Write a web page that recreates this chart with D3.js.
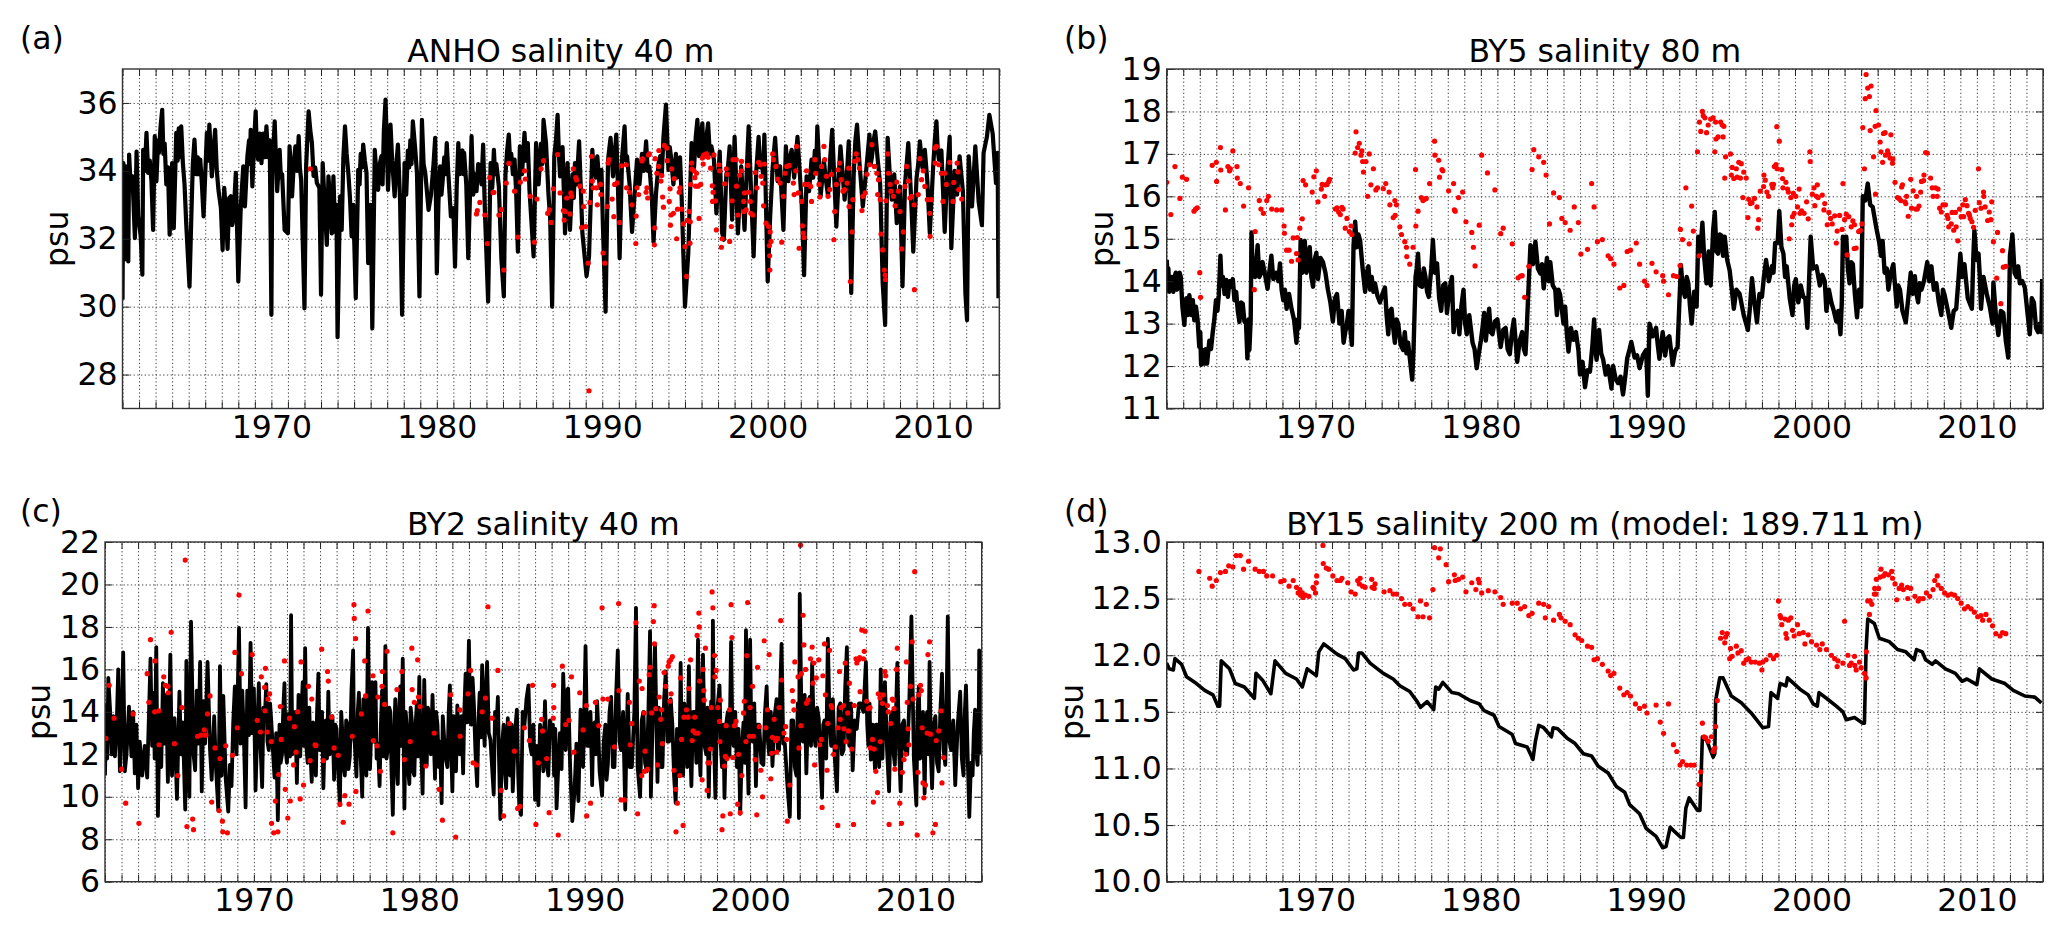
<!DOCTYPE html>
<html>
<head>
<meta charset="utf-8">
<script src="https://cdn.jsdelivr.net/npm/d3@7"></script>
<style>
  body { margin: 0; background: #fff; }
  text { font-family: "DejaVu Sans"; fill: #000; }
</style>
</head>
<body>
<div id="chart"></div>
<script>
const yearTicks = d3.range(1961, 2015)
const decadeLabels = [1970, 1980, 1990, 2000, 2010]
const ticksA = [28, 30, 32, 34, 36]
const ticksB = [11, 12, 13, 14, 15, 16, 17, 18, 19]
const ticksC = [6, 8, 10, 12, 14, 16, 18, 20, 22]
const ticksD = [10, 10.5, 11, 11.5, 12, 12.5, 13]

// [year, salinity], model = black line, obs = red dots
const modelA = [[1961,30.2],[1961.05,34.23],[1961.1,31.38],[1961.2,34.13],[1961.27,32.6],[1961.35,31.33],[1961.4,34.48],[1961.5,33.5],[1961.6,33.84],[1961.75,32.02],[1961.85,34.57],[1961.95,32.66],[1962.1,32.07],[1962.2,30.94],[1962.25,34.62],[1962.35,34],[1962.45,35.12],[1962.55,33.94],[1962.65,34.3],[1962.75,33.7],[1962.85,32.26],[1962.95,35.02],[1963.05,33.69],[1963.15,34.9],[1963.2,34.53],[1963.3,35.3],[1963.4,35.8],[1963.47,34.5],[1963.55,34.8],[1963.65,33.6],[1963.75,34.1],[1963.85,32.12],[1964,34.23],[1964.1,32.31],[1964.25,35.12],[1964.33,34.3],[1964.4,35.25],[1964.47,34.4],[1964.55,35.31],[1964.65,34.23],[1964.75,33.6],[1964.85,32.46],[1965.05,30.59],[1965.15,32.46],[1965.25,34.2],[1965.35,34.92],[1965.45,33.9],[1965.55,34.4],[1965.62,33.9],[1965.7,34.33],[1965.8,33.6],[1965.9,32.66],[1966.1,35.12],[1966.18,34.3],[1966.25,35.36],[1966.33,34.5],[1966.4,33.84],[1966.5,34.6],[1966.6,35.21],[1966.7,34],[1966.8,33.44],[1966.95,32.9],[1967.05,31.67],[1967.15,33.5],[1967.25,32.8],[1967.35,31.7],[1967.45,33.2],[1967.55,33.25],[1967.63,32.4],[1967.7,32.56],[1967.85,33.94],[1968,30.74],[1968.15,32.95],[1968.3,34.13],[1968.4,32.95],[1968.55,34.43],[1968.65,34.9],[1968.7,34.2],[1968.75,35.21],[1968.85,33.54],[1968.95,34.8],[1969.05,35.75],[1969.13,34.5],[1969.2,34.33],[1969.3,35.1],[1969.4,34.23],[1969.5,35.1],[1969.6,34.4],[1969.7,35.31],[1969.8,34.4],[1969.9,34.9],[1970,29.76],[1970.05,33.94],[1970.2,35.46],[1970.28,34.3],[1970.35,33.4],[1970.5,34.62],[1970.57,33.8],[1970.65,33.9],[1970.8,32.26],[1971,32.16],[1971.1,34.72],[1971.25,33.25],[1971.35,34.2],[1971.45,34.72],[1971.55,34],[1971.65,35.02],[1971.72,34.1],[1971.8,33.74],[1972,29.95],[1972.1,34.13],[1972.25,35.75],[1972.35,35.2],[1972.45,34.82],[1972.55,33.85],[1972.65,34.1],[1972.75,33.64],[1972.9,33.5],[1973,30.35],[1973.1,34.23],[1973.25,32.75],[1973.35,31.82],[1973.45,33.84],[1973.55,33.1],[1973.65,32.16],[1973.75,33.84],[1973.85,32.2],[1973.93,33],[1974,29.1],[1974.15,33.25],[1974.25,32.26],[1974.35,34.4],[1974.45,35.31],[1974.55,34.5],[1974.65,33.94],[1974.75,33.2],[1974.85,32.07],[1974.95,33],[1975.1,30.25],[1975.25,34.03],[1975.33,33.6],[1975.4,34.5],[1975.48,34.1],[1975.55,34.77],[1975.65,34.3],[1975.75,33.94],[1975.85,31.28],[1976,33],[1976.1,29.36],[1976.25,34.62],[1976.35,33.9],[1976.45,33.44],[1976.55,34.2],[1976.65,34.43],[1976.72,33.6],[1976.8,35.2],[1976.9,36.1],[1977.05,33.44],[1977.2,35.36],[1977.3,34.3],[1977.45,33.25],[1977.55,34.2],[1977.65,34.77],[1977.78,33.1],[1977.9,29.76],[1978.05,34.23],[1978.15,33.3],[1978.25,34.6],[1978.33,34.1],[1978.4,34.9],[1978.47,34.2],[1978.55,35.46],[1978.7,34.6],[1978.8,33.94],[1978.95,30.3],[1979.1,35.5],[1979.2,34.2],[1979.3,33.94],[1979.5,32.85],[1979.65,33.3],[1979.8,34.2],[1979.9,34.97],[1980,30.98],[1980.1,33.1],[1980.2,34.13],[1980.28,33.3],[1980.35,33.7],[1980.45,34.4],[1980.52,33.9],[1980.6,34.82],[1980.7,33.9],[1980.85,32.66],[1981,32.9],[1981.1,31.18],[1981.2,33.5],[1981.3,34.82],[1981.38,33.9],[1981.45,34.1],[1981.55,34.6],[1981.6,33.9],[1981.65,34.53],[1981.78,33.6],[1981.9,31.43],[1982,33.2],[1982.1,35.02],[1982.2,33.3],[1982.3,33.9],[1982.4,33.4],[1982.5,34.2],[1982.6,34.13],[1982.7,33.6],[1982.8,34.77],[1982.9,32.9],[1983.1,30.15],[1983.25,34.23],[1983.35,33.5],[1983.45,34.62],[1983.52,33.9],[1983.6,34.2],[1983.75,33.54],[1983.9,31.43],[1984.05,30.3],[1984.15,33.9],[1984.25,34.6],[1984.35,35.07],[1984.43,34.3],[1984.5,34.5],[1984.6,33.9],[1984.7,34.33],[1984.8,33.3],[1984.9,31.62],[1985.02,34.72],[1985.15,33.9],[1985.3,35.12],[1985.4,34.3],[1985.5,34.82],[1985.6,33.44],[1985.85,31.48],[1986,34.82],[1986.15,33.6],[1986.3,34.8],[1986.38,34.2],[1986.45,35.5],[1986.6,34.82],[1986.75,33.3],[1986.85,32.6],[1986.97,30],[1987.1,34.43],[1987.2,34.9],[1987.3,35.65],[1987.38,34.5],[1987.45,33.84],[1987.6,34.7],[1987.75,32.16],[1987.9,34.23],[1988.05,32.26],[1988.2,33.9],[1988.28,33.2],[1988.35,34.23],[1988.45,33.6],[1988.52,34.2],[1988.6,34.87],[1988.8,32.16],[1989.05,30.9],[1989.2,31.48],[1989.4,34.62],[1989.47,34],[1989.55,34.1],[1989.62,33.8],[1989.7,34.43],[1989.85,33.5],[1989.95,34.03],[1990.05,32.2],[1990.2,29.85],[1990.35,34.33],[1990.5,34.97],[1990.65,33.84],[1990.75,34.5],[1990.85,35.07],[1990.95,33.5],[1991.05,31.43],[1991.2,34.4],[1991.35,35.31],[1991.42,34.3],[1991.5,34.43],[1991.65,33.6],[1991.8,32.2],[1992.1,34.33],[1992.25,33.6],[1992.4,34.5],[1992.52,34],[1992.65,34.87],[1992.75,34],[1992.85,34.13],[1993,33.2],[1993.1,31.9],[1993.25,33.34],[1993.4,34.2],[1993.5,34.43],[1993.6,33.9],[1993.7,35],[1993.85,35.95],[1994,34.03],[1994.08,34.7],[1994.15,34.43],[1994.3,33.6],[1994.45,34.5],[1994.52,33.8],[1994.6,33.94],[1994.7,34.4],[1994.8,33.2],[1995,30],[1995.2,31.58],[1995.4,34.82],[1995.55,34.1],[1995.65,35],[1995.75,35.5],[1995.85,34.43],[1995.95,34.9],[1996.05,35.4],[1996.13,34.4],[1996.2,34.43],[1996.3,35],[1996.4,35.4],[1996.5,34.5],[1996.6,34.72],[1996.75,34.33],[1996.9,32.75],[1997.1,34.57],[1997.25,32.16],[1997.35,31.97],[1997.5,33.9],[1997.6,34.1],[1997.7,34.72],[1997.85,32.56],[1998,35],[1998.2,32.16],[1998.4,34.13],[1998.6,32.26],[1998.75,34.2],[1998.85,35.31],[1999,33.34],[1999.15,31.48],[1999.3,33.9],[1999.45,35],[1999.55,34.1],[1999.65,34.23],[1999.72,33.9],[1999.8,35.07],[2000,30.74],[2000.15,32.66],[2000.3,34.1],[2000.45,34.97],[2000.6,33.7],[2000.75,34.13],[2000.95,32.26],[2001.1,34.72],[2001.25,33.7],[2001.35,34.4],[2001.45,34.62],[2001.6,33.8],[2001.7,34.4],[2001.8,35],[2002.05,33.1],[2002.2,30.93],[2002.35,33.84],[2002.5,33.4],[2002.65,34.33],[2002.75,33.8],[2002.85,34.6],[2002.93,34],[2003,35.31],[2003.2,33.25],[2003.4,34.3],[2003.5,33.8],[2003.65,33.25],[2003.78,34.4],[2003.9,35.21],[2004.15,32.36],[2004.3,33.9],[2004.4,34.72],[2004.65,33.15],[2004.8,34],[2004.9,34.87],[2005.05,30.4],[2005.2,33.9],[2005.3,34.9],[2005.4,35.36],[2005.55,34.23],[2005.75,32.95],[2005.95,34],[2006.15,35.07],[2006.23,34.2],[2006.3,34.4],[2006.4,34.9],[2006.5,35.16],[2006.65,34.33],[2006.8,33.6],[2006.95,30.7],[2007.1,29.46],[2007.25,34.97],[2007.38,33.9],[2007.5,33.15],[2007.65,33.9],[2007.8,32.46],[2008,33.54],[2008.15,30.6],[2008.3,33.6],[2008.4,34.2],[2008.5,34.82],[2008.65,33.4],[2008.8,31.62],[2009,33.8],[2009.1,34.2],[2009.2,34.87],[2009.35,34.1],[2009.5,34.62],[2009.65,33.7],[2009.8,32.16],[2010,34.1],[2010.1,34.9],[2010.2,35.46],[2010.28,34.6],[2010.35,34.33],[2010.5,34.6],[2010.7,32.2],[2010.85,33.9],[2011,35],[2011.1,31.72],[2011.3,34],[2011.45,33.3],[2011.6,34.43],[2011.8,33.4],[2011.95,30.4],[2012.05,29.6],[2012.15,34.43],[2012.35,32.95],[2012.55,34.72],[2012.75,33.1],[2012.95,32.4],[2013.05,34.53],[2013.25,35],[2013.4,35.65],[2013.6,35.1],[2013.8,33.64],[2013.9,34.53],[2013.95,30.25]]
const obsA = [[1972.35,34.06],[1982.4,32.73],[1982.45,32.83],[1982.6,33.07],[1982.9,32.7],[1983.05,31.86],[1983.2,33.8],[1983.4,33.36],[1983.45,33.37],[1983.75,32.7],[1983.9,32.86],[1984.05,31.08],[1984.2,33.64],[1984.35,34.22],[1984.7,33.4],[1984.9,32.05],[1985.05,33.67],[1985.3,34],[1985.35,33.76],[1985.65,33.25],[1985.9,31.9],[1986.05,33.17],[1986.3,34.06],[1986.45,34.3],[1986.7,32.75],[1986.8,32.85],[1986.9,32.48],[1987.05,33.47],[1987.3,34.48],[1987.45,33.35],[1987.65,32.83],[1987.7,32.55],[1987.75,32.8],[1987.85,33.2],[1988.05,32.73],[1988.1,33.35],[1988.15,33.25],[1988.25,34.06],[1988.4,33.8],[1988.45,33.73],[1988.65,33.55],[1988.85,33.4],[1988.87,32.95],[1988.75,32.33],[1989,32.36],[1989.15,31.28],[1989.2,27.52],[1989.25,33.07],[1989.35,34.43],[1989.4,33.7],[1989.45,33.5],[1989.65,33.5],[1989.7,33],[1989.9,33.6],[1989.92,33.3],[1990.05,31.58],[1990.15,31.28],[1990.3,32.95],[1990.35,34.23],[1990.4,34.33],[1990.6,33.17],[1990.7,32.65],[1990.75,33.6],[1990.9,33.65],[1991.05,32.48],[1991.15,34.15],[1991.45,34.18],[1991.47,33.5],[1991.65,33.37],[1991.8,33],[1992.05,32.67],[1992.1,33.5],[1992.2,33.3],[1992.03,31.86],[1992.4,34.29],[1992.43,34.35],[1992.65,33.37],[1992.7,33.5],[1992.75,33.2],[1992.8,34.47],[1992.85,34.5],[1993.15,31.82],[1993.17,32.32],[1993.2,34.36],[1993.3,33.93],[1993.4,34.13],[1993.42,34.6],[1993.55,33.7],[1993.6,33.86],[1993.65,33.23],[1993.7,32.93],[1993.75,34.75],[1993.9,34.67],[1993.92,34.3],[1994.1,33.47],[1994.12,32.4],[1994.05,33.1],[1994.15,32.7],[1994.2,34.06],[1994.3,32.75],[1994.35,33.77],[1994.5,32],[1994.55,32.87],[1994.65,33.37],[1994.7,33.5],[1994.8,32.87],[1994.9,32.44],[1995,31.77],[1995.1,30.89],[1995.15,32.54],[1995.25,32.8],[1995.3,31.87],[1995.32,32.5],[1995.35,33.6],[1995.4,34.23],[1995.42,34.05],[1995.55,34],[1995.6,33.8],[1995.65,33.55],[1995.7,33.93],[1995.8,33.55],[1995.85,32.6],[1995.95,33.6],[1996.05,34.38],[1996.1,34.2],[1996.15,34.47],[1996.3,34.5],[1996.4,34.4],[1996.55,34.08],[1996.65,33.56],[1996.7,33.37],[1996.67,33.1],[1996.75,34.47],[1996.85,33.12],[1996.9,32.26],[1997.05,34.18],[1997.1,34],[1997.2,31.75],[1997.25,32],[1997.4,33.62],[1997.5,34.06],[1997.55,33.9],[1997.7,31.92],[1997.8,32.36],[1997.85,33.12],[1997.9,34.33],[1998.1,34.33],[1998.12,33.55],[1998.2,32.7],[1998.3,33.87],[1998.4,34],[1998.42,34.28],[1998.55,33.1],[1998.57,32.8],[1998.6,33.35],[1998.7,32.85],[1998.8,34.16],[1998.85,33.37],[1998.95,33.1],[1998.98,32.75],[1999.1,32.7],[1999.25,33.95],[1999.35,33.5],[1999.45,34.25],[1999.55,34.18],[1999.6,33.84],[1999.7,33.64],[1999.8,34.2],[1999.75,32.97],[1999.9,32.46],[2000.05,32.36],[2000.15,32.2],[2000.1,31.8],[2000.12,31.5],[2000.13,31.08],[2000.2,31.92],[2000.3,34.5],[2000.35,34.33],[2000.5,34.13],[2000.6,33.76],[2000.75,33.64],[2000.85,31.9],[2000.95,33.25],[2001.05,33.93],[2001.15,34.13],[2001.3,34.16],[2001.55,33.64],[2001.7,34],[2001.6,33.3],[2001.75,34.72],[2001.85,33.35],[2001.9,31.72],[2002.05,33.1],[2002.1,32.38],[2002.15,32.17],[2002.2,32.04],[2002.25,33.6],[2002.35,34],[2002.45,33.6],[2002.6,33.54],[2002.65,33.1],[2002.85,34.33],[2002.9,33.93],[2003.1,33.6],[2003.15,33.23],[2003.25,34.13],[2003.4,34.72],[2003.45,34.33],[2003.55,33.84],[2003.65,33.25],[2003.75,33.45],[2003.85,33.9],[2004,31.97],[2004.05,32.8],[2004.15,33.6],[2004.25,34.03],[2004.35,34.23],[2004.45,33.74],[2004.55,33.4],[2004.65,33.45],[2004.8,33.64],[2004.9,34.08],[2004.92,32.95],[2005,30.74],[2005.1,32.2],[2005.15,33.15],[2005.25,34.28],[2005.35,34.5],[2005.45,34.33],[2005.55,34.08],[2005.7,32.83],[2005.75,33.25],[2005.9,33.35],[2006,33.9],[2006.15,34.18],[2006.3,34.77],[2006.45,34.13],[2006.6,33.93],[2006.7,33.74],[2006.65,33.3],[2006.8,33.15],[2006.85,32.14],[2006.95,31.67],[2007.05,31.08],[2007.1,30.93],[2007.12,30.8],[2007.15,33.12],[2007.25,34.5],[2007.3,33.93],[2007.4,33.6],[2007.45,33.4],[2007.6,33.25],[2007.7,32.97],[2007.8,33.67],[2007.9,33.4],[2008,32.8],[2008.1,31.7],[2008.2,32.2],[2008.3,33.54],[2008.4,34.13],[2008.5,33.7],[2008.6,33.2],[2008.7,33.25],[2008.85,33],[2008.87,30.5],[2009.1,33.3],[2009.2,34.36],[2009.3,33.74],[2009.4,34],[2009.5,33.54],[2009.65,33.15],[2009.8,32.75],[2009.82,32.07],[2009.9,33.15],[2010.1,34.67],[2010.2,34.72],[2010.12,34.23],[2010.35,34.18],[2010.5,33.93],[2010.7,33.93],[2010.6,33.1],[2010.8,33.6],[2011,34.25],[2011.2,33.1],[2011.25,33.66],[2011.45,34.23],[2011.5,33.97],[2011.55,33.45],[2011.73,33.17]]

const modelB = [[1961,14.5],[1961.05,14.1],[1961.1,14.3],[1961.15,13.75],[1961.22,14.05],[1961.3,14.1],[1961.4,13.75],[1961.48,14.1],[1961.55,14.2],[1961.62,13.8],[1961.7,13.85],[1961.78,14.2],[1961.85,14.1],[1961.95,13.4],[1962.07,12.97],[1962.13,13.5],[1962.2,13.6],[1962.28,13.2],[1962.37,13.67],[1962.5,13.2],[1962.58,13.55],[1962.67,13.08],[1962.77,13.4],[1962.87,13.08],[1962.97,12.45],[1963.03,12.8],[1963.08,12.03],[1963.18,12.38],[1963.28,12.06],[1963.36,12.4],[1963.44,12.06],[1963.58,12.6],[1963.68,12.4],[1963.78,12.78],[1963.88,13.1],[1963.98,13.55],[1964.07,13.3],[1964.15,13.67],[1964.25,14.6],[1964.32,13.9],[1964.4,14.1],[1964.5,13.7],[1964.6,14.03],[1964.7,13.63],[1964.8,14],[1964.9,13.87],[1965,14.05],[1965.1,13.55],[1965.2,13.75],[1965.3,13.3],[1965.4,13.04],[1965.5,13.5],[1965.6,13.47],[1965.7,13.05],[1965.8,13],[1965.88,12.18],[1965.95,13.1],[1966,12.38],[1966.08,13.1],[1966.13,15.15],[1966.2,14.2],[1966.25,14.43],[1966.35,14.1],[1966.5,14.85],[1966.6,14.1],[1966.7,14.18],[1966.8,14.45],[1966.95,14.15],[1967.1,13.82],[1967.2,14.2],[1967.33,14.6],[1967.45,14.05],[1967.63,14.2],[1967.75,14],[1967.85,14.42],[1967.95,13.8],[1968.05,13.55],[1968.15,13.8],[1968.25,13.35],[1968.4,13.7],[1968.55,13.35],[1968.7,13.1],[1968.85,12.55],[1968.93,13.1],[1969,12.9],[1969.1,14.97],[1969.2,14.2],[1969.35,14.95],[1969.45,14.2],[1969.55,14.35],[1969.65,14.8],[1969.75,14.1],[1969.85,13.87],[1969.95,14.5],[1970.05,14.67],[1970.15,14.05],[1970.3,14.55],[1970.45,14.45],[1970.6,14.2],[1970.75,13.8],[1970.9,13.5],[1971.05,13.05],[1971.18,13.6],[1971.3,13.7],[1971.45,13],[1971.58,13.3],[1971.7,12.55],[1971.8,12.8],[1971.9,13],[1972,13.3],[1972.1,12.9],[1972.2,12.5],[1972.3,14.85],[1972.4,15.4],[1972.5,14.8],[1972.6,15.1],[1972.7,14.95],[1972.85,14.3],[1973,13.75],[1973.1,14.2],[1973.2,14.35],[1973.3,13.8],[1973.4,14.1],[1973.5,13.75],[1973.6,13.95],[1973.75,13.65],[1973.9,13.5],[1974.05,13.7],[1974.2,13.85],[1974.3,13.2],[1974.4,12.75],[1974.5,13.3],[1974.6,13.35],[1974.7,12.9],[1974.8,12.55],[1974.9,13.1],[1975,13],[1975.15,12.5],[1975.3,12.38],[1975.4,12.8],[1975.5,12.3],[1975.6,12.55],[1975.7,12.2],[1975.85,11.68],[1975.93,12.4],[1976.05,14.1],[1976.12,14.3],[1976.2,14.65],[1976.3,13.9],[1976.45,13.87],[1976.55,14.3],[1976.65,14.1],[1976.75,13.75],[1976.85,13.63],[1977,14.3],[1977.1,14.97],[1977.22,14.2],[1977.35,14.42],[1977.48,13.6],[1977.6,13.3],[1977.72,13.9],[1977.85,13.95],[1977.95,13.25],[1978.1,13.8],[1978.25,14.1],[1978.35,12.8],[1978.48,13.2],[1978.6,13.3],[1978.7,12.75],[1978.82,13.4],[1978.95,13.8],[1979.05,13],[1979.15,12.75],[1979.3,13.2],[1979.5,12.55],[1979.62,12.4],[1979.75,11.95],[1979.88,12.3],[1980,12.6],[1980.1,12.9],[1980.2,13.25],[1980.3,12.6],[1980.4,13],[1980.5,13.35],[1980.6,12.8],[1980.7,12.75],[1980.85,13.05],[1981,13.1],[1981.1,12.75],[1981.2,12.45],[1981.35,12.85],[1981.5,12.9],[1981.62,12.4],[1981.75,12.28],[1981.88,12.8],[1982,13.1],[1982.1,12.6],[1982.2,12.1],[1982.35,12.6],[1982.5,12.8],[1982.6,12.4],[1982.7,12.28],[1982.78,12.9],[1982.85,13.55],[1983,14.85],[1983.15,14.4],[1983.3,14.93],[1983.45,14.3],[1983.6,14.18],[1983.7,14.4],[1983.8,13.83],[1983.9,14.2],[1984,14.55],[1984.1,14],[1984.2,14.45],[1984.35,13.9],[1984.5,13.8],[1984.6,13.2],[1984.7,13.8],[1984.8,13.67],[1985,13],[1985.1,13.4],[1985.2,12.77],[1985.3,12.34],[1985.45,12.9],[1985.6,12.62],[1985.75,12.8],[1985.9,12.38],[1986,11.8],[1986.15,12.1],[1986.3,11.5],[1986.45,11.9],[1986.6,11.87],[1986.75,12.5],[1986.85,13.1],[1986.93,12.4],[1987,12.15],[1987.15,12.85],[1987.28,12.3],[1987.4,12.15],[1987.55,11.8],[1987.7,12],[1987.9,11.47],[1988,12],[1988.15,11.7],[1988.3,11.6],[1988.45,11.75],[1988.6,11.33],[1988.75,11.8],[1988.85,12.18],[1989,12.4],[1989.1,12.57],[1989.3,12.2],[1989.45,12.25],[1989.6,11.95],[1989.8,12.25],[1990,12.38],[1990.1,11.3],[1990.2,13],[1990.4,12.7],[1990.6,12.9],[1990.7,12.5],[1990.8,12.17],[1991,12.8],[1991.15,12.25],[1991.28,12.65],[1991.4,12.7],[1991.6,12.03],[1991.75,12.35],[1991.9,12.45],[1992.1,14.38],[1992.22,13.8],[1992.35,13.63],[1992.45,14.1],[1992.55,13.95],[1992.65,13.4],[1992.75,13],[1992.9,13.75],[1993.05,13.4],[1993.15,15.05],[1993.28,14.7],[1993.4,15.38],[1993.5,14.6],[1993.65,13.95],[1993.78,14.7],[1993.9,13.9],[1994.05,15.2],[1994.15,15.63],[1994.25,14.7],[1994.35,14.65],[1994.45,15.1],[1994.55,15.08],[1994.65,14.6],[1994.75,15.05],[1994.9,14.5],[1995.05,14.25],[1995.18,13.8],[1995.3,13.35],[1995.45,13.8],[1995.65,13.7],[1995.9,13.2],[1996.15,12.85],[1996.28,13.4],[1996.4,14.07],[1996.55,13.5],[1996.7,13.03],[1996.85,13.7],[1997,13.63],[1997.12,14.1],[1997.25,14.5],[1997.42,14],[1997.6,14.35],[1997.7,14.2],[1997.8,14.9],[1997.95,14.9],[1998.05,15.65],[1998.18,14.8],[1998.3,14.65],[1998.4,14.1],[1998.5,14.35],[1998.68,13.6],[1998.85,13.2],[1998.95,13.9],[1999.05,14.05],[1999.2,13.5],[1999.35,13.9],[1999.5,13.63],[1999.62,13.6],[1999.75,12.9],[1999.85,14],[1999.95,15.05],[2000.1,14.3],[2000.3,14.35],[2000.5,13.9],[2000.65,14.15],[2000.8,14],[2000.9,13.3],[2001.05,13.8],[2001.2,13.5],[2001.35,13.3],[2001.5,13.05],[2001.62,13.3],[2001.75,12.75],[2001.83,13.5],[2001.9,15.05],[2002,14.6],[2002.1,15.05],[2002.2,14.3],[2002.3,13.95],[2002.4,14.45],[2002.5,14.4],[2002.62,13.7],[2002.75,13.15],[2002.88,13.8],[2003,13.4],[2003.1,16],[2003.25,15.9],[2003.4,16.3],[2003.55,15.8],[2003.7,15.75],[2003.9,15.3],[2004.1,14.9],[2004.2,14.6],[2004.3,14.95],[2004.42,14.2],[2004.55,14.3],[2004.65,13.8],[2004.8,14.2],[2004.95,14.4],[2005.05,13.9],[2005.15,13.4],[2005.25,13.9],[2005.35,13.8],[2005.5,13.3],[2005.7,13.03],[2005.85,13.6],[2006,14.2],[2006.12,13.7],[2006.25,14.12],[2006.35,13.7],[2006.45,13.5],[2006.55,13.95],[2006.65,13.8],[2006.8,14],[2007,14.45],[2007.12,14],[2007.25,14.35],[2007.4,13.8],[2007.55,13.95],[2007.7,13.5],[2007.85,13.2],[2007.95,13.8],[2008.05,13.67],[2008.25,13.3],[2008.45,12.9],[2008.6,13.3],[2008.75,13.35],[2008.88,14],[2009,14.65],[2009.12,14.1],[2009.25,14.4],[2009.45,13.6],[2009.7,13.35],[2009.78,14.5],[2009.85,15.2],[2009.98,14.5],[2010.1,14.65],[2010.18,14.1],[2010.25,13.35],[2010.4,14.1],[2010.6,13.7],[2010.78,13.4],[2010.95,13],[2011,13.97],[2011.15,13.2],[2011.3,12.73],[2011.45,13.3],[2011.6,13.25],[2011.75,12.6],[2011.9,12.2],[2012,14.6],[2012.15,15.1],[2012.28,14.2],[2012.4,14.1],[2012.5,14.35],[2012.6,13.95],[2012.75,14],[2012.9,13.85],[2013.05,13.3],[2013.2,12.75],[2013.32,13.6],[2013.45,13.5],[2013.58,12.9],[2013.7,12.8],[2013.8,13],[2013.9,12.8],[2013.95,14.05]]
const obsB = [[1961,16.33],[1961.25,15.57],[1961.5,16.7],[1961.8,15.95],[1961.95,16.45],[1962.2,16.4],[1962.65,15.65],[1962.75,15.7],[1962.85,15.73],[1963,14.2],[1963.05,13.62],[1963.75,16.73],[1964,16.8],[1964.02,16.35],[1964.25,17.15],[1964.27,16.62],[1964.55,15.68],[1964.7,16.7],[1964.8,16.6],[1964.85,16.65],[1965,17.07],[1965.25,16.7],[1965.27,16.43],[1965.45,16.3],[1965.65,15.77],[1965.95,16.2],[1966.3,13.8],[1966.35,15.17],[1966.6,15.9],[1966.7,15.7],[1966.85,15.6],[1967.05,15.9],[1967.15,16],[1967.35,15.7],[1967.65,15.68],[1967.95,15.68],[1968.1,15.3],[1968.12,15.13],[1968.25,14.73],[1968.4,14.73],[1968.55,14.47],[1968.65,15.02],[1968.9,15.03],[1968.85,14.65],[1968.95,14.5],[1969.05,15.25],[1969.2,15.47],[1969.25,16.37],[1969.4,16.27],[1969.8,16.1],[1969.9,16.46],[1970.05,16.6],[1970.15,15.87],[1970.35,16.17],[1970.4,16.28],[1970.55,16],[1970.6,16.27],[1970.7,16.28],[1970.8,16.35],[1970.85,16.4],[1971.2,15.7],[1971.3,15.73],[1971.4,15.63],[1971.5,15.57],[1971.6,15.74],[1971.67,15.7],[1971.8,15.25],[1971.9,15.48],[1972.05,15.17],[1972.15,15.3],[1972.2,15.1],[1972.4,17.02],[1972.45,17.52],[1972.55,17.15],[1972.65,17.25],[1972.75,16.97],[1972.8,17.07],[1972.85,16.82],[1972.9,16.57],[1973.05,16.82],[1973.15,16],[1973.25,17],[1973.35,16.27],[1973.5,16.65],[1973.65,16.15],[1973.75,16.2],[1974.1,16.18],[1974.25,16.3],[1974.45,16.1],[1974.5,15.8],[1974.7,15.5],[1974.8,15.9],[1974.82,15.55],[1974.9,15.8],[1975.1,15.28],[1975.2,15.1],[1975.4,14.93],[1975.5,14.8],[1975.52,14.58],[1975.7,14.4],[1975.9,14.8],[1976.05,16.63],[1976.07,15.3],[1976.2,15.65],[1976.4,15.97],[1976.5,15.9],[1976.6,15.93],[1976.7,15.95],[1976.9,16.3],[1977.2,17.3],[1977.22,16.97],[1977.45,16.85],[1977.5,16.45],[1977.65,16.63],[1977.7,16.6],[1978.05,16.13],[1978.35,16.3],[1978.4,15.68],[1978.45,15.65],[1978.65,15.97],[1978.9,16.1],[1979.1,15.4],[1979.45,15.15],[1979.55,14.8],[1979.65,14.36],[1979.9,15.32],[1980.05,16.97],[1980.4,16.55],[1980.85,16.15],[1981.2,15.12],[1981.35,15.25],[1981.9,14.88],[1982.25,14.08],[1982.4,14.12],[1982.5,14.13],[1982.65,13.62],[1982.9,14.35],[1983.1,16.63],[1983.2,17.1],[1983.5,16.93],[1983.8,16.8],[1983.95,16.5],[1984.15,15.35],[1984.4,16.08],[1984.75,15.97],[1984.9,15.48],[1985.1,15.38],[1985.4,15.2],[1985.65,15.75],[1985.9,15.38],[1986.05,14.64],[1986.45,14.75],[1986.7,16.3],[1986.85,15.75],[1987.05,14.93],[1987.35,14.98],[1987.7,14.6],[1987.85,14.53],[1988.05,14.4],[1988.4,13.84],[1988.65,13.9],[1988.85,14.7],[1989.05,14.73],[1989.4,14.9],[1989.6,14.4],[1989.9,14],[1990.05,13.9],[1990.35,14.42],[1990.6,14.22],[1991,14.13],[1991.05,14],[1991.35,13.68],[1991.65,14.13],[1991.85,14.11],[1992.05,14.37],[1992.07,15.22],[1992.2,14.98],[1992.4,16.2],[1992.6,14.88],[1992.75,15.77],[1992.85,15.18],[1993.1,17.05],[1993.2,14.6],[1993.22,17.75],[1993.3,17.53],[1993.4,18],[1993.45,17.9],[1993.55,17.85],[1993.65,17.5],[1993.75,17.68],[1993.9,17.82],[1994.05,17.85],[1994.15,17.05],[1994.2,17.75],[1994.22,17.35],[1994.35,17.4],[1994.5,17.75],[1994.6,17.68],[1994.65,17.4],[1994.7,17.65],[1994.8,16.93],[1994.75,16.43],[1995.1,17],[1995.15,16.5],[1995.2,16.68],[1995.3,16.42],[1995.45,16.65],[1995.5,16.45],[1995.6,16.8],[1995.7,16.43],[1995.75,16.77],[1995.9,16.57],[1996.05,16.43],[1995.85,15.97],[1996.15,15.5],[1996.2,15.93],[1996.3,15.83],[1996.4,15.85],[1996.55,15.95],[1996.7,15.75],[1996.8,15.45],[1996.75,15.25],[1996.9,16.12],[1997.1,16.23],[1997.12,16.5],[1997.2,16.38],[1997.3,16.1],[1997.4,16],[1997.6,16.28],[1997.65,16.2],[1997.7,16.28],[1997.75,16.7],[1997.9,17.64],[1997.85,16.75],[1997.92,16.65],[1998.05,17.3],[1998.2,16.63],[1998.25,16.42],[1998.27,16.2],[1998.45,16.33],[1998.55,16.17],[1998.6,16.1],[1998.65,15],[1998.75,15.97],[1998.8,15.33],[1998.9,16.07],[1998.85,15.52],[1998.95,15.6],[1999.05,16],[1999.15,15.75],[1999.25,16.17],[1999.3,15.6],[1999.4,15.66],[1999.55,15.6],[1999.7,15.87],[1999.8,15.47],[1999.9,17.05],[1999.92,16.82],[2000.05,16.05],[2000.15,16.2],[2000.2,15.78],[2000.35,16.27],[2000.3,16],[2000.4,15.97],[2000.65,16.03],[2000.8,15.83],[2000.75,15.68],[2001.05,15.62],[2000.95,15.33],[2001.15,15.48],[2001.25,15.35],[2001.4,15.54],[2001.55,15.18],[2001.5,14.9],[2001.7,15.55],[2001.85,15.22],[2001.9,16.3],[2002,15.45],[2002.1,15.58],[2002.25,15.52],[2002.15,14.62],[2002.4,15.28],[2002.5,15.42],[2002.6,15.33],[2002.58,14.77],[2002.7,14.78],[2002.85,15.17],[2002.95,15.2],[2003.05,15.35],[2003.1,17.62],[2003.2,16.65],[2003.25,18.3],[2003.3,18.87],[2003.4,18.55],[2003.5,18.35],[2003.6,18.6],[2003.55,17.55],[2003.75,16.93],[2003.85,17.65],[2003.87,16.05],[2003.9,18.02],[2004.05,17.68],[2004.15,17.28],[2004.2,17.05],[2004.3,16.8],[2004.35,17.48],[2004.45,17.5],[2004.47,16.97],[2004.6,17.07],[2004.65,17],[2004.75,16.9],[2004.8,17.45],[2004.9,16.78],[2004.92,16.88],[2005.05,16.33],[2005.2,15.97],[2005.3,15.95],[2005.4,15.9],[2005.45,16.22],[2005.5,16.27],[2005.65,15.87],[2005.75,16],[2005.85,15.53],[2005.7,15.83],[2006,16.4],[2006.05,15.72],[2006.15,16.13],[2006.3,15.7],[2006.35,16],[2006.4,15.7],[2006.5,15.77],[2006.6,16.1],[2006.65,16.35],[2006.8,16.5],[2006.78,16.37],[2006.9,17.03],[2007,17.02],[2007.2,16.43],[2007.3,16.2],[2007.35,16],[2007.5,16.2],[2007.6,16],[2007.65,16.17],[2007.75,15.72],[2007.85,15.63],[2007.95,15.8],[2008.1,15.8],[2008.2,15.55],[2008.25,15.48],[2008.3,15.28],[2008.45,15.35],[2008.5,15.62],[2008.6,15.2],[2008.75,15.28],[2008.7,15.62],[2008.85,14.95],[2008.95,15.7],[2009.05,15.52],[2009.15,15.8],[2009.2,15.52],[2009.3,15.92],[2009.4,15.78],[2009.5,15.6],[2009.55,15.56],[2009.6,15.48],[2009.7,15.4],[2009.8,15.27],[2009.9,15.67],[2010.1,16.65],[2010.15,15.85],[2010.25,15.72],[2010.4,16.1],[2010.42,16],[2010.5,15.75],[2010.65,15.43],[2010.75,15.63],[2010.85,15.45],[2010.9,15.87],[2011,14.93],[2011.2,14.07],[2011.25,15.15],[2011.45,13.47],[2011.55,14.72],[2011.6,14.33],[2011.75,14.35]]

const modelC = [[1961,11],[1961.07,14.3],[1961.13,11.8],[1961.2,15.6],[1961.3,14.2],[1961.4,12],[1961.5,13.8],[1961.6,11.9],[1961.7,13.2],[1961.8,16],[1961.9,11.2],[1962,13.3],[1962.1,16.8],[1962.2,11.2],[1962.3,12],[1962.45,14.25],[1962.6,11.9],[1962.7,14],[1962.8,11.1],[1962.9,13.4],[1963,10.4],[1963.1,12.6],[1963.25,11],[1963.4,12.4],[1963.55,10.9],[1963.75,16.5],[1963.85,12.4],[1963.95,14.9],[1964,11.8],[1964.1,17.05],[1964.2,9.1],[1964.3,14],[1964.4,11.4],[1964.5,15.35],[1964.6,12.5],[1964.7,14.8],[1964.8,10.7],[1964.95,16.7],[1965.05,11],[1965.2,13.7],[1965.35,9.9],[1965.5,14.95],[1965.6,12],[1965.7,13.5],[1965.85,9.4],[1965.92,16.4],[1966.1,10],[1966.2,18.25],[1966.35,12],[1966.45,11.25],[1966.55,15],[1966.65,12.5],[1966.75,16.35],[1966.85,10.25],[1966.95,14.5],[1967.05,12.5],[1967.2,16.35],[1967.35,12.2],[1967.45,10.8],[1967.6,13.8],[1967.7,11.5],[1967.85,9.35],[1967.95,16.15],[1968.05,11],[1968.15,14.75],[1968.3,10.8],[1968.45,9.3],[1968.55,11.5],[1968.65,10.5],[1968.75,13.5],[1968.85,15.2],[1968.95,12],[1969.1,17.95],[1969.2,12.5],[1969.3,15],[1969.4,12.7],[1969.5,9.5],[1969.6,15],[1969.7,12.9],[1969.8,17.25],[1969.9,13],[1970,15.1],[1970.1,10.3],[1970.2,13],[1970.3,15.35],[1970.4,12.4],[1970.5,10.45],[1970.58,14.2],[1970.65,13.6],[1970.75,15.3],[1970.82,12.6],[1970.9,12.2],[1970.98,14.4],[1971.05,13.6],[1971.15,12.2],[1971.25,10.9],[1971.35,13],[1971.45,8.9],[1971.55,13.4],[1971.62,11.6],[1971.7,12],[1971.78,14.2],[1971.85,15.35],[1971.92,12.2],[1972,11.6],[1972.1,13.9],[1972.18,11.9],[1972.25,18.55],[1972.32,12],[1972.4,12.6],[1972.5,14],[1972.6,10.65],[1972.7,14.8],[1972.8,11.9],[1972.88,14],[1972.95,15.4],[1973.02,12.4],[1973.1,17],[1973.18,12.3],[1973.25,11.6],[1973.35,14.2],[1973.42,12],[1973.5,10.7],[1973.58,13.5],[1973.65,12.8],[1973.75,11],[1973.82,14],[1973.9,15.8],[1973.98,12.2],[1974.05,12.6],[1974.12,14],[1974.2,10.4],[1974.28,12.8],[1974.35,13.6],[1974.42,11.8],[1974.5,14.95],[1974.58,12],[1974.65,12.6],[1974.75,13.8],[1974.85,10.8],[1974.92,13.4],[1975,13.2],[1975.1,11.2],[1975.2,9.6],[1975.28,14],[1975.35,13],[1975.42,11.4],[1975.5,11],[1975.58,13.6],[1975.65,13.4],[1975.72,11.3],[1975.8,11.9],[1975.9,15],[1976,16.9],[1976.05,12.8],[1976.1,12.5],[1976.2,10.95],[1976.28,14],[1976.35,14.9],[1976.45,12],[1976.55,10],[1976.62,14.6],[1976.7,13.7],[1976.8,11],[1976.9,17.95],[1977.02,11.3],[1977.1,13.2],[1977.15,15.4],[1977.25,12.6],[1977.35,15.4],[1977.42,11.8],[1977.5,12.5],[1977.6,10.5],[1977.68,13.4],[1977.75,15],[1977.85,11.9],[1977.95,17.1],[1978.02,11.8],[1978.1,12.3],[1978.18,14.2],[1978.25,14],[1978.32,11.2],[1978.4,9.15],[1978.48,13],[1978.55,14.6],[1978.62,11.6],[1978.7,10.6],[1978.78,14],[1978.85,15.2],[1978.92,12.4],[1979,16.5],[1979.1,9.45],[1979.18,14],[1979.25,13.2],[1979.32,11.4],[1979.4,10.6],[1979.48,14.2],[1979.55,13.6],[1979.62,11.2],[1979.7,11],[1979.78,13.4],[1979.85,14.4],[1979.92,11.9],[1980,15.65],[1980.06,13],[1980.12,12.2],[1980.2,10.15],[1980.3,15.5],[1980.38,12.4],[1980.45,11.5],[1980.52,14.2],[1980.6,13.8],[1980.7,12],[1980.8,14.8],[1980.88,12.6],[1980.95,10.85],[1981.02,14],[1981.1,13.4],[1981.18,11.4],[1981.25,12.6],[1981.35,9.7],[1981.42,13.8],[1981.5,12.8],[1981.6,11.8],[1981.7,11.4],[1981.78,14],[1981.85,15.25],[1981.92,12.4],[1982,10.25],[1982.08,13.8],[1982.15,12.6],[1982.22,11.2],[1982.3,14.3],[1982.38,12.8],[1982.45,12],[1982.55,13.8],[1982.65,11.1],[1982.72,14],[1982.8,15.8],[1982.9,13.5],[1983,17.35],[1983.08,13.5],[1983.15,13.4],[1983.22,15.6],[1983.3,14.4],[1983.4,12],[1983.5,10.5],[1983.58,13.6],[1983.65,14.9],[1983.72,12.8],[1983.8,16.2],[1983.88,13.6],[1983.95,12.4],[1984.02,14.8],[1984.1,16.35],[1984.2,13],[1984.3,12.7],[1984.4,11.4],[1984.5,10.1],[1984.58,14],[1984.65,13],[1984.75,14.7],[1984.82,11.8],[1984.9,8.95],[1985,12.4],[1985.1,13.4],[1985.18,11.2],[1985.25,10.4],[1985.35,13.7],[1985.42,11.8],[1985.5,11],[1985.58,13.4],[1985.65,10.25],[1985.78,13],[1985.9,14.1],[1985.98,11],[1986.05,9.5],[1986.15,9.15],[1986.25,14],[1986.35,13.3],[1986.48,14.6],[1986.6,15.25],[1986.7,12.4],[1986.8,12],[1986.9,13.4],[1987,9.85],[1987.1,12.4],[1987.2,9.6],[1987.3,13.4],[1987.4,13],[1987.5,11.2],[1987.6,14.5],[1987.7,11.6],[1987.8,11],[1987.9,13.6],[1988,12.9],[1988.08,13.4],[1988.15,11],[1988.22,13.2],[1988.3,9.45],[1988.4,11.4],[1988.5,13],[1988.6,11.3],[1988.7,15.8],[1988.78,14],[1988.85,12.2],[1988.92,15],[1989,15.1],[1989.12,11.4],[1989.25,8.85],[1989.38,10.2],[1989.5,12.5],[1989.62,9.8],[1989.75,14.1],[1989.82,13],[1989.9,11.4],[1990,15],[1990.05,17.1],[1990.15,12.4],[1990.25,12.4],[1990.35,14],[1990.45,10.55],[1990.52,13.4],[1990.6,13.5],[1990.68,12],[1990.75,14.5],[1990.82,13.2],[1990.9,11.2],[1991.05,10.05],[1991.15,12.6],[1991.25,13.4],[1991.32,10.8],[1991.4,11.5],[1991.5,14],[1991.6,14.7],[1991.7,11.4],[1991.8,11.4],[1991.9,14.8],[1992,16.9],[1992.1,12.6],[1992.2,12.2],[1992.32,14],[1992.45,9.4],[1992.52,12.4],[1992.6,14.85],[1992.72,11.4],[1992.85,11.4],[1993,14],[1993.1,18.9],[1993.2,11.4],[1993.35,10],[1993.45,13.6],[1993.55,14],[1993.65,11.6],[1993.75,11.2],[1993.85,14],[1993.95,17.8],[1994,10],[1994.12,14],[1994.25,17.2],[1994.4,10.7],[1994.48,14.2],[1994.55,13.6],[1994.62,11.4],[1994.7,11.4],[1994.8,14.6],[1994.9,15.9],[1995,12.6],[1995.1,12.6],[1995.2,14.6],[1995.3,13.4],[1995.4,11],[1995.5,9.7],[1995.58,13.2],[1995.65,12.8],[1995.72,11],[1995.8,16.3],[1995.88,11.6],[1995.95,11],[1996.02,14.4],[1996.1,13.8],[1996.2,11.4],[1996.3,16.15],[1996.38,12.4],[1996.45,10.5],[1996.55,14],[1996.65,14],[1996.75,11.6],[1996.85,17.4],[1996.92,12.4],[1997,11],[1997.08,15],[1997.15,16.7],[1997.25,12.4],[1997.35,12],[1997.42,14.2],[1997.5,10],[1997.58,13.6],[1997.65,14.5],[1997.7,12.4],[1997.75,18.3],[1997.82,12.6],[1997.9,9.95],[1998,14],[1998.15,15.25],[1998.22,12.6],[1998.3,11.4],[1998.38,13.4],[1998.45,9.95],[1998.55,13.4],[1998.65,14],[1998.75,11.9],[1998.85,17.3],[1998.92,13.4],[1999,12.4],[1999.1,14],[1999.2,11.4],[1999.3,13.2],[1999.4,9.2],[1999.5,12.2],[1999.6,13.5],[1999.68,11.6],[1999.75,17.85],[1999.82,13],[1999.9,10.15],[2000,17.4],[2000.07,13],[2000.15,12.6],[2000.25,14.4],[2000.35,10.5],[2000.45,13.4],[2000.55,13.4],[2000.68,11.6],[2000.8,11.5],[2000.9,14],[2001,15.2],[2001.08,12.6],[2001.15,12],[2001.25,14],[2001.35,11.45],[2001.48,13.8],[2001.6,14.6],[2001.68,12.2],[2001.75,12.2],[2001.82,15],[2001.9,17.2],[2002,12.5],[2002.1,12.5],[2002.25,10.6],[2002.4,9.05],[2002.5,13.6],[2002.6,13.6],[2002.7,11.4],[2002.8,11],[2002.88,14.4],[2002.95,9],[2003,19.55],[2003.1,14],[2003.2,12.6],[2003.3,14.8],[2003.4,11.1],[2003.5,14.2],[2003.6,14.7],[2003.68,12.4],[2003.75,16.3],[2003.85,13],[2003.95,12.4],[2004.05,14.2],[2004.15,13.7],[2004.25,11.6],[2004.35,9.95],[2004.42,13.4],[2004.5,13.6],[2004.6,11.8],[2004.7,17.45],[2004.8,13.6],[2004.9,12.4],[2005,14.6],[2005.12,11.8],[2005.25,10.25],[2005.35,14.2],[2005.45,14.4],[2005.55,12],[2005.65,12.2],[2005.75,15.2],[2005.85,17.05],[2005.92,12.8],[2006,12.4],[2006.1,14.4],[2006.2,11.25],[2006.32,13.6],[2006.45,13.2],[2006.58,14.4],[2006.7,14.4],[2006.85,14],[2007,16.35],[2007.08,13.4],[2007.15,12.4],[2007.22,14.4],[2007.3,11.75],[2007.42,13.4],[2007.55,11.3],[2007.62,13.4],[2007.7,13.4],[2007.8,11.4],[2007.9,16],[2007.95,12.4],[2008,11.8],[2008.08,14.2],[2008.15,15.4],[2008.28,12.2],[2008.4,10.25],[2008.5,13.8],[2008.6,14],[2008.68,12],[2008.75,11.5],[2008.82,14],[2008.9,16.3],[2009,12.4],[2009.1,10.25],[2009.2,13.4],[2009.3,13.6],[2009.4,12.2],[2009.5,12],[2009.62,14.4],[2009.75,18.5],[2009.9,11.8],[2010.05,9.6],[2010.12,14],[2010.2,15.2],[2010.28,11.8],[2010.35,12],[2010.45,14],[2010.55,10.15],[2010.62,13.4],[2010.7,14],[2010.78,12],[2010.85,16.35],[2010.92,12.2],[2011,10.4],[2011.1,13.4],[2011.2,13.8],[2011.3,11.6],[2011.4,11.2],[2011.5,14],[2011.6,15.8],[2011.7,12.2],[2011.8,11.5],[2011.88,14.6],[2011.95,18.5],[2012.05,12.6],[2012.15,12.2],[2012.28,13.6],[2012.4,10.55],[2012.55,13.4],[2012.7,14.95],[2012.8,11.8],[2012.9,11],[2012.98,14],[2013.05,15.25],[2013.15,12],[2013.25,9.05],[2013.35,11.6],[2013.45,11],[2013.52,13],[2013.6,14.1],[2013.68,12],[2013.75,11.5],[2013.82,13.6],[2013.85,16.9],[2013.97,12]]
const obsC = [[1961.05,12.75],[1961.25,15.25],[1961.55,13.7],[1962,11.3],[1962.25,9.7],[1962.7,13.9],[1963.05,8.75],[1963.55,15.8],[1963.65,14.45],[1963.75,17.4],[1964,14],[1964.02,16.4],[1964.25,14.05],[1964.27,12.45],[1964.55,15.65],[1964.65,15.25],[1964.8,15.2],[1964.82,14.9],[1965,17.75],[1965.2,12.5],[1965.4,11],[1965.65,14.2],[1965.85,21.15],[1965.95,8.6],[1966.3,8.95],[1966.35,8.45],[1966.6,12.85],[1966.8,12.9],[1967,13.15],[1967.1,12.9],[1967.2,13.9],[1967.35,14.75],[1967.45,9.75],[1967.65,12.3],[1967.9,9.35],[1967.95,11.8],[1968.1,8.85],[1968.12,8.35],[1968.3,12.4],[1968.4,8.3],[1968.7,11.95],[1968.85,16.8],[1969,13.25],[1969.1,19.5],[1969.25,15.8],[1969.9,16.7],[1970.2,13.6],[1970.4,13.05],[1970.45,15.65],[1970.65,15.15],[1970.7,16.05],[1970.67,14.05],[1970.8,13.05],[1970.85,14.6],[1970.95,14.85],[1971.05,12.6],[1971.07,8.75],[1971.2,8.3],[1971.3,9.8],[1971.45,8.35],[1971.5,11.05],[1971.6,14.25],[1971.65,12.7],[1971.85,16.4],[1971.9,10.35],[1972.05,9],[1972.15,13.7],[1972.2,9.8],[1972.4,11.5],[1972.45,13.3],[1972.55,12.1],[1972.65,14],[1972.8,9.9],[1972.85,16.35],[1973,10.55],[1973.3,15.2],[1973.4,11.7],[1973.5,14.6],[1973.7,12.45],[1973.75,12.42],[1974.1,16.95],[1974.2,11.7],[1974.45,15.9],[1974.5,15.45],[1974.7,13.75],[1974.85,12.3],[1975.1,11.95],[1975.2,9.65],[1975.4,8.8],[1975.5,10.05],[1975.75,9.65],[1975.95,12.85],[1976.05,19.05],[1976.07,18.4],[1976.15,17.45],[1976.17,10.25],[1976.5,13.9],[1976.7,16.4],[1976.75,14.75],[1976.9,18.75],[1977.2,15.7],[1977.22,12.65],[1977.45,12.4],[1977.5,14.7],[1977.65,11.2],[1977.75,15.2],[1977.77,15.9],[1977.9,14.35],[1978.05,16.85],[1978.4,8.3],[1978.65,15.05],[1978.95,15.9],[1979.1,11.75],[1979.45,12.6],[1979.55,17],[1979.57,15.05],[1979.7,14.45],[1979.9,16.45],[1979.95,14.7],[1980.05,14.25],[1980.4,11.45],[1980.9,13],[1981.2,10.35],[1981.4,8.9],[1981.9,14.8],[1982.2,8.1],[1982.45,14.1],[1982.47,12.85],[1982.95,14.85],[1983.1,15.95],[1983.25,11.6],[1983.45,11.5],[1983.8,14],[1984,14.65],[1984.15,18.95],[1984.4,13.7],[1984.75,15.95],[1984.95,10.3],[1985.1,9.1],[1985.45,13.45],[1985.75,12.15],[1985.95,9.45],[1986.1,9.55],[1986.35,13.25],[1986.65,12.65],[1986.85,15.25],[1987.05,8.7],[1987.2,11.6],[1987.4,13.65],[1987.45,13.1],[1987.7,11.8],[1987.85,9.25],[1988.1,13.7],[1988.12,15.25],[1988.13,14.2],[1988.4,8.2],[1988.65,16.15],[1988.85,13.4],[1989.05,13.6],[1989.2,15.65],[1989.35,12.1],[1989.7,14.9],[1989.9,13.15],[1990.1,14.3],[1990.12,9.1],[1990.35,9.7],[1990.65,14.45],[1990.85,13.35],[1991.05,18.9],[1991.1,14.6],[1991.4,14.6],[1991.8,12.35],[1992.05,19.1],[1992.07,15],[1992.2,9.85],[1992.4,9.85],[1992.7,14.45],[1992.75,12.45],[1992.85,13.45],[1993.1,18.2],[1993.2,9.2],[1993.3,15.45],[1993.45,11],[1993.47,15.1],[1993.6,13.95],[1993.65,12.15],[1993.62,11.2],[1993.8,11.3],[1993.9,15.75],[1993.95,16.1],[1994.05,13.95],[1994.15,18.25],[1994.2,19],[1994.22,17.2],[1994.3,14.15],[1994.4,11.5],[1994.5,14.7],[1994.6,13.65],[1994.65,14.1],[1994.7,12.5],[1994.8,15.85],[1994.9,15.2],[1995.05,16.15],[1995.1,16.35],[1995.2,16.45],[1995.3,16.6],[1995.15,14.5],[1995.22,14.85],[1995.4,11.25],[1995.5,10.35],[1995.52,8.35],[1995.6,9.7],[1995.75,11],[1995.8,15.6],[1995.85,12.7],[1995.95,8.65],[1996,13.75],[1996.15,14.1],[1996.25,13.75],[1996.3,15.1],[1996.4,16.45],[1996.5,12.65],[1996.55,13.1],[1996.65,13.75],[1996.7,13],[1996.8,17.6],[1996.85,13],[1996.9,18.65],[1996.92,18],[1996.95,15.45],[1997.1,10.8],[1997.15,16],[1997.2,15],[1997.22,14.55],[1997.3,17],[1997.4,10.3],[1997.45,11.6],[1997.55,11.6],[1997.65,14.2],[1997.6,12.25],[1997.7,19.65],[1997.75,18.9],[1997.85,16.65],[1997.95,15.95],[1997.87,15.65],[1998.05,14.2],[1998.15,13.55],[1998.17,12.6],[1998.2,14.55],[1998.3,8.45],[1998.35,9.1],[1998.45,11.45],[1998.5,11.9],[1998.55,13.35],[1998.6,11.8],[1998.75,14.1],[1998.8,9.2],[1998.85,19.05],[1998.9,17.5],[1998.95,11.85],[1999.05,13.35],[1999.15,13.55],[1999.25,9.65],[1999.3,12],[1999.4,9.25],[1999.5,11],[1999.6,13.95],[1999.65,14.5],[1999.75,12.6],[1999.8,16.65],[1999.85,19.15],[1999.95,12.85],[2000,14.2],[2000.15,15.2],[2000.2,12.85],[2000.3,11.75],[2000.4,9.15],[2000.45,16.1],[2000.55,13.3],[2000.65,11.25],[2000.75,10],[2000.85,17.35],[2000.95,13.25],[2001.05,14.1],[2001.15,16.7],[2001.25,10.85],[2001.3,12.05],[2001.35,12.8],[2001.45,13.65],[2001.55,12.65],[2001.6,12.1],[2001.65,12.75],[2001.75,14.2],[2001.85,18.3],[2001.9,15.5],[2002.05,13],[2002.15,13.3],[2002.2,12.7],[2002.25,8.85],[2002.4,10.55],[2002.55,15],[2002.6,14.5],[2002.65,14.1],[2002.7,16.35],[2002.9,15.65],[2002.95,12.3],[2003.05,21.85],[2003.07,13.35],[2003.1,15.8],[2003.2,18.55],[2003.25,17.15],[2003.35,16],[2003.4,14.4],[2003.5,14.55],[2003.65,16.5],[2003.75,17.05],[2003.8,15.35],[2003.85,16.3],[2003.9,11.5],[2004,15.6],[2004.15,16.45],[2004.2,12.45],[2004.3,12.7],[2004.35,9.5],[2004.4,15.7],[2004.5,17.2],[2004.55,14.8],[2004.65,11.25],[2004.7,13.45],[2004.8,16.9],[2004.9,14.3],[2004.95,14.2],[2005.05,12],[2005.15,12.35],[2005.3,8.65],[2005.32,13.25],[2005.4,15.9],[2005.45,13.65],[2005.5,14.2],[2005.65,14.3],[2005.67,13.2],[2005.75,16.3],[2005.8,12.6],[2005.9,13.95],[2005.95,13.1],[2006,15.35],[2006.15,12.25],[2006.25,8.7],[2006.3,14.3],[2006.4,16.5],[2006.45,16.3],[2006.55,16.45],[2006.65,14.95],[2006.62,16.55],[2006.75,17.85],[2006.85,16.5],[2006.9,16.85],[2006.95,17.8],[2007.05,14.5],[2007.15,14.15],[2007.25,14.2],[2007.27,12.3],[2007.4,12.7],[2007.45,9.75],[2007.5,12.25],[2007.6,11.2],[2007.7,10.2],[2007.75,14.85],[2007.85,14.65],[2007.87,12.6],[2008,14.4],[2008.05,14.8],[2008.15,15.9],[2008.2,15.7],[2008.3,14.3],[2008.35,14],[2008.4,8.7],[2008.5,13.45],[2008.6,14.6],[2008.65,14.55],[2008.7,14.15],[2008.75,11.3],[2008.85,16],[2008.9,17],[2009.05,9.7],[2009.15,8.75],[2009.2,11.15],[2009.3,11.75],[2009.4,12],[2009.45,16.35],[2009.5,14.45],[2009.55,13.2],[2009.6,12.45],[2009.7,15.2],[2009.8,17.3],[2009.85,14.6],[2009.95,20.6],[2010.1,8.2],[2010.15,11.15],[2010.2,14.8],[2010.3,15.25],[2010.35,15],[2010.4,13.25],[2010.45,10.65],[2010.5,9.95],[2010.6,10.55],[2010.7,13],[2010.75,16.7],[2010.85,17.3],[2010.9,12.95],[2011.05,8.3],[2011.2,8.7],[2011.25,12.65],[2011.4,13.1],[2011.55,14.05],[2011.6,10.65],[2011.7,11.85]]

const modelD = [[1961,11.93],[1961.15,11.88],[1961.4,11.87],[1961.5,11.97],[1961.9,11.92],[1962.2,11.81],[1962.8,11.75],[1963.3,11.69],[1963.8,11.65],[1964.1,11.55],[1964.2,11.55],[1964.3,11.95],[1964.8,11.88],[1965.15,11.75],[1965.7,11.72],[1966.3,11.62],[1966.4,11.84],[1966.8,11.78],[1967.3,11.66],[1967.55,11.95],[1968.2,11.84],[1968.85,11.79],[1969.2,11.72],[1969.5,11.88],[1970.05,11.82],[1970.2,12.03],[1970.5,12.1],[1971.3,12.01],[1971.8,11.97],[1972.3,11.87],[1972.5,11.88],[1972.6,12.02],[1972.8,12.02],[1973.3,11.93],[1974.1,11.84],[1974.7,11.79],[1975.1,11.73],[1975.7,11.68],[1976.15,11.59],[1976.35,11.54],[1976.75,11.59],[1977.15,11.52],[1977.27,11.72],[1977.45,11.7],[1977.7,11.76],[1978.25,11.67],[1978.65,11.66],[1979.35,11.6],[1979.9,11.57],[1980.2,11.51],[1980.8,11.47],[1981.1,11.37],[1981.9,11.3],[1982.1,11.22],[1982.8,11.19],[1983.15,11.08],[1983.3,11.24],[1983.5,11.38],[1983.8,11.36],[1984.27,11.28],[1984.37,11.36],[1984.65,11.35],[1985.2,11.27],[1985.7,11.22],[1986.2,11.13],[1986.7,11.11],[1987.1,11.02],[1987.7,10.96],[1988.2,10.84],[1988.7,10.79],[1989,10.68],[1989.6,10.6],[1990,10.47],[1990.6,10.4],[1991,10.3],[1991.2,10.31],[1991.45,10.48],[1992.1,10.39],[1992.25,10.39],[1992.4,10.65],[1992.6,10.74],[1993.1,10.63],[1993.25,10.63],[1993.4,11.28],[1993.65,11.25],[1994.05,11.1],[1994.15,11.13],[1994.2,11.6],[1994.45,11.8],[1994.65,11.8],[1995.15,11.64],[1995.75,11.58],[1996.35,11.49],[1997.05,11.36],[1997.4,11.37],[1997.55,11.67],[1997.95,11.62],[1998.1,11.75],[1998.45,11.73],[1998.55,11.8],[1999.3,11.7],[1999.8,11.65],[2000.1,11.57],[2000.35,11.55],[2000.45,11.67],[2000.9,11.62],[2001.5,11.55],[2001.9,11.5],[2002.1,11.43],[2002.6,11.45],[2003.1,11.4],[2003.2,11.4],[2003.3,12.05],[2003.4,12.32],[2003.8,12.28],[2004.1,12.15],[2004.7,12.12],[2005.2,12.05],[2005.7,12.03],[2006.2,11.96],[2006.35,12.05],[2006.7,12.03],[2006.9,11.96],[2007.3,11.92],[2007.5,11.95],[2008.1,11.88],[2008.7,11.84],[2009.1,11.77],[2009.4,11.79],[2010,11.74],[2010.15,11.88],[2010.9,11.79],[2011.7,11.75],[2012.2,11.69],[2012.9,11.64],[2013.5,11.63],[2013.9,11.58]]
const obsD = [[1962.95,12.74],[1963.6,12.68],[1963.75,12.61],[1964,12.66],[1964.25,12.73],[1964.55,12.74],[1964.75,12.79],[1965,12.78],[1965.2,12.88],[1965.45,12.88],[1965.65,12.76],[1965.95,12.83],[1966.35,12.76],[1966.6,12.74],[1966.85,12.74],[1967.05,12.7],[1967.4,12.7],[1967.9,12.65],[1968.1,12.66],[1968.4,12.61],[1968.65,12.66],[1968.85,12.6],[1968.95,12.55],[1969.05,12.58],[1969.1,12.53],[1969.2,12.55],[1969.25,12.51],[1969.4,12.53],[1969.6,12.52],[1969.85,12.6],[1969.9,12.59],[1970.05,12.64],[1970,12.55],[1970.07,12.7],[1970.45,12.97],[1970.47,12.81],[1970.65,12.77],[1970.8,12.76],[1971.05,12.7],[1971.3,12.66],[1971.5,12.66],[1971.6,12.68],[1971.95,12.64],[1972.15,12.56],[1972.4,12.54],[1972.55,12.66],[1972.7,12.68],[1972.65,12.63],[1972.85,12.61],[1973,12.6],[1973.4,12.67],[1973.42,12.6],[1973.6,12.63],[1973.55,12.59],[1974.15,12.56],[1974.5,12.57],[1974.7,12.54],[1974.9,12.54],[1975.2,12.5],[1975.4,12.45],[1975.7,12.45],[1975.9,12.41],[1976.2,12.34],[1976.5,12.34],[1976.35,12.48],[1976.7,12.45],[1976.9,12.33],[1977.1,12.58],[1977.2,12.95],[1977.55,12.94],[1977.45,12.86],[1977.9,12.8],[1978.05,12.65],[1978.4,12.71],[1978.45,12.66],[1978.65,12.67],[1978.9,12.69],[1979.1,12.56],[1979.45,12.64],[1979.7,12.58],[1979.85,12.67],[1979.9,12.64],[1980.05,12.55],[1980.45,12.57],[1980.85,12.56],[1981.2,12.51],[1981.35,12.45],[1981.9,12.46],[1982.2,12.46],[1982.4,12.41],[1982.65,12.43],[1982.9,12.35],[1983.1,12.37],[1983.5,12.46],[1983.8,12.45],[1984.1,12.43],[1983.9,12.33],[1984.4,12.31],[1984.75,12.36],[1984.85,12.33],[1985.1,12.3],[1985.4,12.27],[1985.7,12.18],[1985.9,12.15],[1986.1,12.13],[1986.45,12.08],[1986.7,12.07],[1986.85,11.96],[1987.05,11.97],[1987.35,11.92],[1987.7,11.86],[1987.85,11.82],[1988.05,11.84],[1988.4,11.71],[1988.65,11.65],[1988.85,11.67],[1989.05,11.64],[1989.35,11.57],[1989.6,11.53],[1989.9,11.55],[1990.05,11.49],[1990.6,11.56],[1990.85,11.41],[1991.05,11.31],[1991.35,11.57],[1991.65,11.21],[1991.85,11.15],[1992.05,11.03],[1992.2,11.06],[1992.45,11.03],[1992.7,11.03],[1992.9,11.03],[1993.2,10.86],[1993.3,10.97],[1993.4,11.4],[1993.5,11.28],[1993.6,11.27],[1993.75,11.24],[1993.95,11.28],[1994.05,11.15],[1994.15,11.18],[1994.2,11.37],[1994.3,11.6],[1994.6,12.2],[1994.5,12.15],[1994.75,12.11],[1994.9,12.19],[1994.8,12.16],[1995.1,12.06],[1995.05,11.97],[1995.2,11.99],[1995.45,12.08],[1995.55,12.02],[1995.75,12.04],[1995.9,11.93],[1996.05,11.96],[1996.2,11.97],[1996.35,11.94],[1996.6,11.94],[1996.85,11.93],[1997,11.87],[1997.05,11.94],[1997.25,11.96],[1997.5,12],[1997.7,11.97],[1997.9,12],[1998,12.48],[1998.1,12.35],[1998.2,12.27],[1998.15,12.33],[1998.4,12.32],[1998.6,12.31],[1998.75,12.33],[1998.45,12.19],[1998.5,12.15],[1998.85,12.22],[1998.95,12.17],[1999.15,12.27],[1999.25,12.19],[1999.5,12.2],[1999.8,12.18],[1999.6,12.1],[2000,12.12],[2000.3,12.09],[2000.5,12.05],[2000.65,12.1],[2000.9,12.05],[2001.2,12],[2001.4,11.97],[2001.6,11.95],[2001.55,11.9],[2001.9,11.93],[2002,12.3],[2002.2,12],[2002.3,11.91],[2002.4,11.93],[2002.6,11.99],[2002.62,11.91],[2002.7,11.87],[2002.9,11.94],[2003,11.89],[2003.2,11.84],[2003.3,11.8],[2003.32,12.03],[2003.4,12.48],[2003.55,12.48],[2003.65,12.45],[2003.5,12.36],[2003.8,12.54],[2003.9,12.54],[2003.82,12.59],[2004.05,12.59],[2003.92,12.67],[2004.15,12.69],[2004.35,12.7],[2004.2,12.76],[2004.45,12.72],[2004.65,12.71],[2004.85,12.74],[2004.9,12.68],[2005.05,12.63],[2005.15,12.49],[2005.3,12.59],[2005.45,12.62],[2005.55,12.58],[2005.8,12.6],[2006,12.59],[2005.82,12.5],[2006.25,12.52],[2006.45,12.48],[2006.55,12.5],[2006.75,12.5],[2006.95,12.55],[2007.15,12.52],[2007.35,12.58],[2007.45,12.66],[2007.6,12.7],[2007.65,12.62],[2007.85,12.59],[2008.05,12.55],[2008.25,12.53],[2008.45,12.54],[2008.65,12.53],[2008.85,12.5],[2009.05,12.46],[2009.25,12.41],[2009.45,12.43],[2009.65,12.41],[2009.85,12.38],[2010.05,12.34],[2010.25,12.35],[2010.35,12.31],[2010.55,12.36],[2010.75,12.31],[2010.95,12.26],[2011.15,12.19],[2011.4,12.17],[2011.55,12.2],[2011.75,12.19]]

const svg = d3.select("#chart").append("svg").attr("width", 2067).attr("height", 935)

function drawPanel(p, i) {
    const w = p.right - p.left
    const h = p.bottom - p.top
    const x = d3.scaleLinear().domain([1961, 2014]).range([0, w])
    const y = d3.scaleLinear().domain(p.yDomain).range([h, 0])
    const g = svg.append("g").attr("transform", "translate(" + p.left + "," + p.top + ")")

    // dotted grid
    g.append("g").attr("transform", "translate(0," + h + ")")
        .call(d3.axisBottom(x).tickValues(yearTicks).tickSize(-h).tickFormat(""))
    g.append("g").call(d3.axisLeft(y).tickValues(p.yTicks).tickSize(-w).tickFormat(""))
    g.selectAll(".domain").remove()
    g.selectAll(".tick line").attr("stroke", "#444").attr("stroke-width", 1).attr("stroke-dasharray", "1.3,2.4")

    const id = "clip" + i
    g.append("clipPath").attr("id", id).append("rect").attr("width", w).attr("height", h)
    const plot = g.append("g").attr("clip-path", "url(#" + id + ")")

    const line = d3.line().x(d => x(d[0])).y(d => y(d[1]))
    plot.append("path").datum(p.model).attr("d", line).attr("fill", "none")
        .attr("stroke", "#000").attr("stroke-width", p.lineWidth).attr("stroke-linejoin", "round")
    plot.selectAll("circle").data(p.obs).enter().append("circle")
        .attr("cx", d => x(d[0])).attr("cy", d => y(d[1])).attr("r", 2.6).attr("fill", "#f00")

    // ticks pointing in, on all four sides
    const fmt = d => decadeLabels.includes(d) ? d : ""
    const bottom = g.append("g").attr("transform", "translate(0," + h + ")")
        .call(d3.axisBottom(x).tickValues(yearTicks).tickSize(-7).tickPadding(7).tickFormat(fmt))
    const top = g.append("g").call(d3.axisTop(x).tickValues(yearTicks).tickSize(-7).tickFormat(""))
    const left = g.append("g").call(d3.axisLeft(y).tickValues(p.yTicks).tickSize(-7).tickPadding(5))
    const right = g.append("g").attr("transform", "translate(" + w + ",0)")
        .call(d3.axisRight(y).tickValues(p.yTicks).tickSize(-7).tickFormat(""))
    ;[bottom, top, left, right].forEach(a => {
        a.selectAll(".tick line").attr("stroke", "#222").attr("stroke-width", 1)
        a.select(".domain").remove()
        a.selectAll("text").style("font-family", '"DejaVu Sans"').style("font-size", "31.5px").attr("fill", "#000")
    })
    g.append("rect").attr("width", w).attr("height", h).attr("fill", "none")
        .attr("stroke", "#333").attr("stroke-width", 1.4)

    g.append("text").attr("x", w / 2).attr("y", -7).attr("text-anchor", "middle")
        .style("font-size", "31.5px").text(p.title)
    svg.append("text").attr("x", p.labelX).attr("y", p.top - 20).style("font-size", "31.5px").text(p.label)
    svg.append("text").attr("transform", "translate(" + p.psuX + "," + (p.top + h / 2) + ") rotate(-90)")
        .attr("text-anchor", "middle").style("font-size", "31.5px").text("psu")
}

const rightL = 1166.7, rightR = 2043
;[
    { label: "(a)", title: "ANHO salinity 40 m", left: 122.5, right: 999.3, top: 69, bottom: 408.5, labelX: 20, psuX: 67.7, yDomain: [27, 37], yTicks: ticksA, model: modelA, obs: obsA, lineWidth: 4.2 },
    { label: "(b)", title: "BY5 salinity 80 m", left: rightL, right: rightR, top: 69, bottom: 408.5, labelX: 1064, psuX: 1113, yDomain: [11, 19], yTicks: ticksB, model: modelB, obs: obsB, lineWidth: 4.4 },
    { label: "(c)", title: "BY2 salinity 40 m", left: 105, right: 981.7, top: 542, bottom: 881.7, labelX: 20, psuX: 50, yDomain: [6, 22], yTicks: ticksC, model: modelC, obs: obsC, lineWidth: 3.8 },
    { label: "(d)", title: "BY15 salinity 200 m (model: 189.711 m)", left: rightL, right: rightR, top: 542, bottom: 881.7, labelX: 1064, psuX: 1083, yDomain: [10, 13], yTicks: ticksD, model: modelD, obs: obsD, lineWidth: 3.6 }
].forEach(drawPanel)
</script>
</body>
</html>
